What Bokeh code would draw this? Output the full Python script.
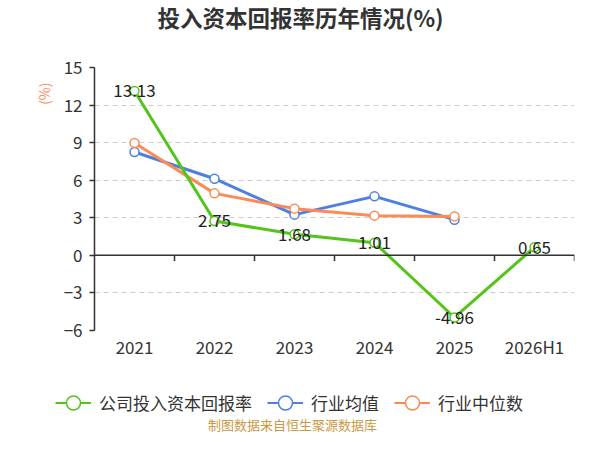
from bokeh.plotting import figure
from bokeh.layouts import column
from bokeh.models import (ColumnDataSource, FixedTicker, Span, Legend, LegendItem, Title, Label)
from bokeh.core.properties import value
from bokeh.embed import file_html
from bokeh.resources import INLINE

categories = ["2021", "2022", "2023", "2024", "2025", "2026H1"]
company = [13.13, 2.75, 1.68, 1.01, -4.96, 0.65]
ind_mean = [8.25, 6.12, 3.25, 4.71, 2.85]
ind_median = [8.97, 4.95, 3.73, 3.17, 3.11]
y_ticks = [-6, -3, 0, 3, 6, 9, 12, 15]
series_names = ["公司投入资本回报率", "行业均值", "行业中位数"]
chart_title = "投入资本回报率历年情况(%)"
source_note = "制图数据来自恒生聚源数据库"

FONT = "Noto Sans CJK SC"
GREEN = "#52c41a"
BLUE = "#4e7fe4"
ORANGE = "#fb8a57"
TXT = "#333333"


def strip(height):
    f = figure(width=584, height=height, output_backend="svg", toolbar_location=None,
               x_axis_type=None, y_axis_type=None, min_border=0,
               x_range=(0, 1), y_range=(0, 1))
    f.outline_line_color = None
    f.frame_align = False
    f.xgrid.grid_line_color = None
    f.ygrid.grid_line_color = None
    return f


# title strip
t = strip(34)
t.add_layout(Label(x=300, y=18, x_units="screen", y_units="screen", text=chart_title,
                   text_align="center", text_baseline="middle", text_font=FONT,
                   text_font_size="22.5px", text_font_style="bold", text_color=TXT))

# main chart
p = figure(width=584, height=336, output_backend="svg", toolbar_location=None,
           x_range=(-0.5, len(categories) - 0.5), y_range=(-6, 15),
           min_border_left=94, min_border_right=10, min_border_top=33, min_border_bottom=40)
p.outline_line_color = None
p.frame_align = False

xa = p.xaxis[0]
xa.ticker = FixedTicker(ticks=list(range(len(categories))))
xa.major_label_overrides = {i: c for i, c in enumerate(categories)}
xa.axis_line_color = None
xa.major_tick_line_color = None
xa.minor_tick_line_color = None
xa.major_label_text_font = FONT
xa.major_label_text_font_size = "17px"
xa.major_label_text_color = TXT
xa.major_label_standoff = -3

ya = p.yaxis[0]
ya.ticker = FixedTicker(ticks=y_ticks)
ya.axis_line_color = TXT
ya.axis_line_width = 1.5
ya.major_tick_line_color = TXT
ya.major_tick_line_width = 1.5
ya.major_tick_in = 0
ya.major_tick_out = 5
ya.minor_tick_line_color = None
ya.major_label_text_font = FONT
ya.major_label_text_font_size = "17px"
ya.major_label_text_color = TXT
ya.major_label_standoff = 7

p.xgrid.grid_line_color = None
p.ygrid.ticker = FixedTicker(ticks=[tk for tk in y_ticks if tk != 0])
p.ygrid.grid_line_color = "#cccccc"
p.ygrid.grid_line_dash = "5 4"
p.ygrid.grid_line_width = 1

p.add_layout(Span(location=0, dimension="width", line_color=TXT, line_width=1.5))
bounds = [i + 0.5 for i in range(len(categories))]
p.segment(x0=bounds, y0=[0] * len(bounds), x1=bounds, y1=[-0.45] * len(bounds),
          line_color=TXT, line_width=1.5)

xs = list(range(len(categories)))
src_c = ColumnDataSource(dict(x=xs, y=company, lab=[f"{v:.2f}" for v in company]))
src_m = ColumnDataSource(dict(x=xs[:len(ind_mean)], y=ind_mean))
src_d = ColumnDataSource(dict(x=xs[:len(ind_median)], y=ind_median))

for src, col in [(src_m, BLUE), (src_d, ORANGE), (src_c, GREEN)]:
    p.line("x", "y", source=src, line_color=col, line_width=3)
    p.scatter("x", "y", source=src, size=9, fill_color="white", line_color=col, line_width=1.5)

p.text("x", "y", text="lab", source=src_c, text_align="center", text_baseline="middle",
       text_font=value(FONT), text_font_size="17px", text_color="#222222")

ylab = Title(text="(%)", align="right", offset=15, text_font=FONT, text_font_size="14px",
             text_font_style="normal", text_color=ORANGE, standoff=14)
p.add_layout(ylab, "left")

# legend + source note strip
q = strip(64)
items = []
for name, col in zip(series_names, [GREEN, BLUE, ORANGE]):
    r1 = q.line([5, 6], [5, 5], line_color=col, line_width=2)
    r2 = q.scatter([5], [5], size=14, fill_color="white", line_color=col, line_width=1.5)
    items.append(LegendItem(label=name, renderers=[r1, r2]))

legend = Legend(items=items, orientation="horizontal", location=(55, 14))
legend.label_text_font = FONT
legend.label_text_font_size = "17px"
legend.label_text_color = TXT
legend.glyph_width = 36
legend.glyph_height = 35
legend.spacing = 15
legend.label_standoff = 8
legend.border_line_color = None
legend.background_fill_alpha = 0
legend.margin = 0
legend.padding = 0
q.add_layout(legend)

q.add_layout(Label(x=292, y=10, x_units="screen", y_units="screen",
                   text=source_note, text_align="center",
                   text_baseline="middle", text_font=FONT, text_font_size="13px",
                   text_color="#c99a44"))

open("out.html", "w").write(file_html(column(t, p, q), INLINE))
